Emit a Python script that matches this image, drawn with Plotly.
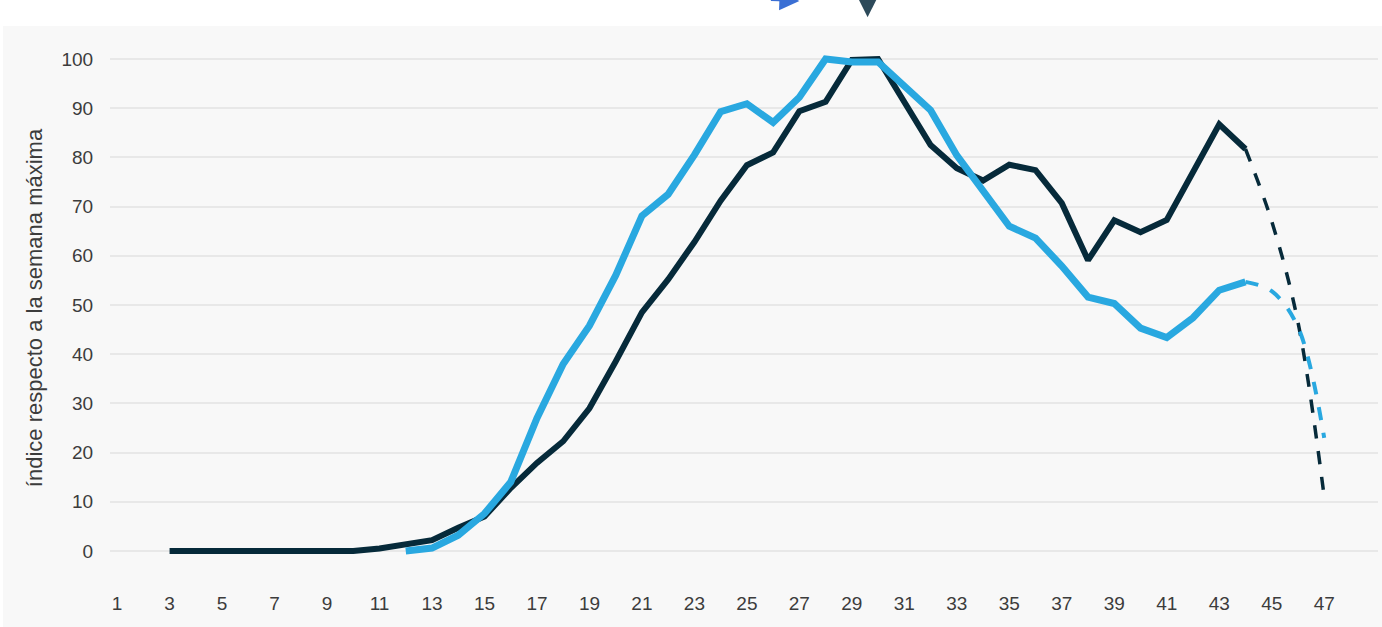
import plotly.graph_objects as go

# ---- data (week number -> index relative to the peak week) ----
weeks_dark = list(range(3, 45))
dark_values = [0, 0, 0, 0, 0, 0, 0, 0, 0.5, 1.2, 2.2, 4.7, 7.0, 12.8, 17.9, 22.3, 29.0, 38.5, 48.5, 55.2,
               62.8, 71.2, 78.4, 81.0, 89.4, 91.3, 99.8, 100.0, 91.0, 82.5, 77.8, 75.3, 78.5, 77.4,
               70.7, 59.1, 67.2, 64.8, 67.3, 76.8, 86.7, 81.7]
weeks_dark_proj = [44, 45, 46, 47]
dark_proj_values = [81.7, 67.0, 46.5, 11.0]

weeks_blue = list(range(12, 45))
blue_values = [0, 0.6, 3.2, 7.6, 14.0, 27.0, 38.0, 45.8, 56.0, 68.1, 72.5, 80.5, 89.3, 90.9, 87.1,
               92.2, 100.0, 99.4, 99.4, 94.6, 89.6, 80.4, 73.4, 66.0, 63.6, 57.9, 51.6, 50.3, 45.3,
               43.4, 47.4, 53.0, 54.7]
weeks_blue_proj = [44, 45, 46, 47]
blue_proj_values = [54.7, 52.8, 45.5, 23.0]

x_ticks = list(range(1, 48, 2))
y_ticks = list(range(0, 101, 10))
y_title = "índice respecto a la semana máxima"

DARK = "#062a3a"
BLUE = "#29a8e0"
BG = "#f8f8f8"
TXT = "#3c3c3c"
FONT = "Liberation Sans, Arial, sans-serif"

W, H = 1382, 627
ML, MR, MT, MB = 110, 4, 26, 37
PW, PH = W - ML - MR, H - MT - MB

fig = go.Figure()
fig.add_trace(go.Scatter(x=weeks_dark, y=dark_values, mode="lines",
                         line=dict(color=DARK, width=6), hoverinfo="skip"))
fig.add_trace(go.Scatter(x=weeks_dark_proj, y=dark_proj_values, mode="lines",
                         line=dict(color=DARK, width=3.5, dash="13px,13px", shape="spline"),
                         hoverinfo="skip"))
fig.add_trace(go.Scatter(x=weeks_blue, y=blue_values, mode="lines",
                         line=dict(color=BLUE, width=7), hoverinfo="skip"))
fig.add_trace(go.Scatter(x=weeks_blue_proj, y=blue_proj_values, mode="lines",
                         line=dict(color=BLUE, width=4, dash="13px,13px", shape="spline"),
                         hoverinfo="skip"))

# white strips at the top and left edge of the picture
fig.add_shape(type="rect", xref="paper", yref="paper", x0=-ML / PW - 0.01, x1=1.01,
              y0=1.0, y1=1.0 + (MT + 5) / PH,
              fillcolor="white", line=dict(width=0), layer="below")
fig.add_shape(type="rect", xref="paper", yref="paper", x0=-ML / PW - 0.01, x1=(3 - ML) / PW,
              y0=-MB / PH - 0.01, y1=1.0 + (MT + 5) / PH,
              fillcolor="white", line=dict(width=0), layer="below")

# arrow heads coming from above the frame
fig.add_annotation(x=29.6, y=1.0155, xref="x", yref="paper", text="", showarrow=True,
                   ax=0, ay=-45, arrowhead=2, arrowwidth=2, arrowsize=2,
                   arrowcolor="#2d4a5a")
fig.add_annotation(x=27.0, y=1.047, xref="x", yref="paper", text="", showarrow=True,
                   ax=-30, ay=-34, arrowhead=2, arrowwidth=2, arrowsize=2,
                   arrowcolor="#3a6fd4")

fig.update_layout(
    width=W, height=H, autosize=False,
    margin=dict(l=ML, r=MR, t=MT, b=MB),
    paper_bgcolor=BG, plot_bgcolor=BG,
    showlegend=False,
    font=dict(family=FONT, size=19, color=TXT),
    xaxis=dict(range=[0.73, 49.05], tickvals=x_ticks, ticktext=[str(v) for v in x_ticks],
               showgrid=False, zeroline=False, showline=False,
               ticks="", tickfont=dict(size=19, color=TXT)),
    yaxis=dict(range=[-7.93, 106.7], tickvals=y_ticks, showgrid=True,
               gridcolor="#e8e8e8", gridwidth=1.5, zeroline=False, showline=False,
               ticks="outside", ticklen=12, tickcolor="rgba(0,0,0,0)",
               tickfont=dict(size=19, color=TXT),
               title=dict(text=y_title, standoff=12, font=dict(size=22, color=TXT))),
)

fig.write_html("out.html", config={"displayModeBar": False},
               post_script="document.body.style.margin='0px';")
